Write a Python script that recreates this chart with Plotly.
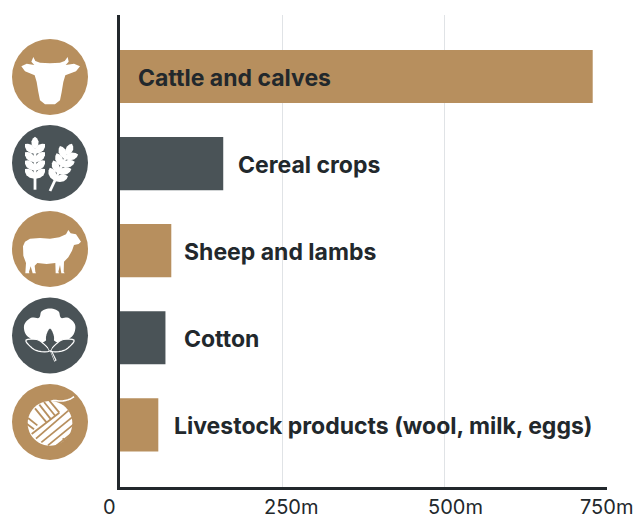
"""Farm exports bar chart with round commodity icons beside each bar."""
import math

import plotly.graph_objects as go

CATEGORIES = ["Cattle and calves", "Cereal crops", "Sheep and lambs", "Cotton",
              "Livestock products (wool, milk, eggs)"]
VALUES = [728, 159, 79, 70, 59]
TICK_VALUES = [0, 250, 500, 750]
TICK_LABELS = ["0", "250m", "500m", "750m"]

TAN = "#B78F5E"
SLATE = "#4A5357"
INK = "#22282C"
GRID = "#E0E3E6"
WHITE = "#FFFFFF"
FONT = "Inter"
BAR_COLORS = [TAN, SLATE, TAN, SLATE, TAN]

W, H = 637, 520
PLOT_L, PLOT_R, PLOT_T, PLOT_B = 120, 607, 15, 486.7
LABEL_X = [137, 237, 183, 183, 173]     # left edge of each bar label, px
ICON_X = 50
ICON_Y = [77, 163, 249, 335.5, 422]
ICON_R = 38
TICK_LABEL_X = [109.5, 291, 455.5, 606.5]


def px(x):
    return x / W


def py(y):
    return 1 - y / H


def path_str(points, close=True):
    cmds = [f"{'M' if i == 0 else 'L'} {px(x):.5f} {py(y):.5f}"
            for i, (x, y) in enumerate(points)]
    return " ".join(cmds) + (" Z" if close else "")


def smooth(points, closed=True, steps=6):
    """Catmull-Rom through hand-traced outline points."""
    n = len(points)
    out = []
    for i in range(n if closed else n - 1):
        if closed:
            p0, p1, p2, p3 = (points[(i + k) % n] for k in (-1, 0, 1, 2))
        else:
            p0, p1, p2, p3 = (points[max(i - 1, 0)], points[i], points[i + 1],
                              points[min(i + 2, n - 1)])
        for s in range(steps):
            t = s / steps
            out.append(tuple(
                0.5 * (2 * b + (c - a) * t + (2 * a - 5 * b + 4 * c - d) * t ** 2
                       + (3 * b - a - 3 * c + d) * t ** 3)
                for a, b, c, d in zip(p0, p1, p2, p3)))
    if not closed:
        out.append(points[-1])
    return out


def crop(points, cx, cy, ox=150, oy=0):
    """Traced points are in 3x zoom units around (ox, oy); move onto the icon."""
    return [(cx + (x - ox) / 3, cy + (y - oy) / 3) for x, y in points]


def shape(points, fill=WHITE, line=None, width=0, close=True):
    return dict(type="path", path=path_str(points, close), xref="paper", yref="paper",
                fillcolor=fill if close else "rgba(0,0,0,0)",
                line=dict(color=line or fill, width=width), layer="above")


def disc(cx, cy, r, color):
    return dict(type="circle", xref="paper", yref="paper", x0=px(cx - r), x1=px(cx + r),
                y0=py(cy + r), y1=py(cy - r), fillcolor=color,
                line=dict(width=0), layer="above")


def kernel(x, y, angle, length, width):
    """Leaf-shaped grain from base (x, y) pointing along angle (degrees)."""
    a = math.radians(angle)
    ux, uy = math.cos(a), math.sin(a)
    nx, ny = -uy, ux
    pts = []
    for t, w in [(0, 0.3), (0.3, 0.9), (0.6, 1), (0.85, 0.6), (1, 0), (0.85, -0.6),
                 (0.6, -1), (0.3, -0.9), (0, -0.3)]:
        pts.append((x + ux * length * t + nx * width * w,
                    y + uy * length * t + ny * width * w))
    return shape(pts)


def cow_icon(cx, cy):
    head = [(100, 110), (106, 122), (120, 127), (150, 129), (180, 127), (194, 122),
            (203, 110), (206, 124), (197, 134), (222, 130), (240, 138), (228, 153),
            (196, 165), (190, 185), (185, 215), (180, 240), (165, 252), (135, 252),
            (120, 240), (115, 215), (110, 185), (104, 165), (75, 153), (64, 138),
            (80, 130), (103, 134), (94, 124)]
    return [disc(cx, cy, ICON_R, TAN), shape(crop(head, cx, cy, 150, 170))]


def ear(x0, y0, tilt, rows, tip):
    """One wheat ear, x0/y0 at the stem foot, tilt in degrees from vertical."""
    a = math.radians(tilt)
    ux, uy = math.sin(a), -math.cos(a)
    items = [shape([(x0, y0), (x0 + ux * tip, y0 + uy * tip)], line=WHITE, width=2.8, close=False)]
    for dist in rows:
        bx, by = x0 + ux * dist, y0 + uy * dist
        items.append(kernel(bx, by, tilt - 90 - 48, 13.5, 3.7))
        items.append(kernel(bx, by, tilt - 90 + 48, 13.5, 3.7))
    items.append(kernel(x0 + ux * tip, y0 + uy * tip, tilt - 90, 12, 3.6))
    return items


def wheat_icon(cx, cy):
    return ([disc(cx, cy, ICON_R, SLATE)]
            + ear(cx - 15, cy + 26.7, 0, (11.7, 20, 28.3, 36.7), 41)
            + ear(cx, cy + 28, 25, (12, 20, 28, 36), 40))


def sheep_icon(cx, cy):
    body = [(69, 122), (75, 108), (90, 99), (120, 97), (150, 99), (178, 95), (198, 86),
            (205, 73), (212, 83), (228, 86), (243, 108), (236, 115), (222, 118),
            (216, 135), (205, 155), (192, 168), (191, 198), (194, 203), (184, 203),
            (180, 178), (175, 198), (177, 203), (167, 203), (166, 172), (140, 175), (112, 172),
            (104, 180), (106, 198), (108, 203), (98, 203), (92, 182), (87, 198), (88, 203),
            (76, 203), (78, 172), (70, 150)]
    return [disc(cx, cy, ICON_R, TAN), shape(crop(body, cx, cy, 150, 130))]


def cotton_icon(cx, cy):
    boll = smooth([(150, 310), (175, 318), (183, 338), (205, 338), (225, 358), (222, 385),
                   (205, 402), (175, 412), (150, 400), (125, 412), (95, 402), (76, 385),
                   (73, 358), (93, 338), (117, 338), (125, 318)])
    left = smooth([(78, 405), (110, 403), (132, 417), (148, 438), (115, 438), (92, 425)], steps=4)
    right = smooth([(222, 405), (190, 403), (168, 417), (152, 438), (185, 438), (208, 425)], steps=4)
    mid = smooth([(150, 370), (162, 395), (158, 420), (150, 436), (142, 420), (138, 395)], steps=4)
    stem_outer = [(150, 437), (156, 437), (170, 465), (163, 470)]
    stem_inner = [(153, 441), (155, 441), (166, 465), (164, 467)]
    return [disc(cx, cy, ICON_R, SLATE),
            shape(crop(boll, cx, cy, 150, 391)),
            shape(crop(left, cx, cy, 150, 391), fill=SLATE, line=WHITE, width=1.2),
            shape(crop(right, cx, cy, 150, 391), fill=SLATE, line=WHITE, width=1.2),
            shape(crop(mid, cx, cy, 150, 391), fill=SLATE),
            shape(crop(stem_outer, cx, cy, 150, 391)),
            shape(crop(stem_inner, cx, cy, 150, 391), fill=SLATE)]


def yarn_icon(cx, cy):
    bx, by, br = 90, 100, 67
    ball = smooth([(bx + br * math.cos(k * math.pi / 12), by + br * math.sin(k * math.pi / 12))
                   for k in range(24)], steps=2)
    items = [disc(cx, cy, ICON_R, TAN), shape(crop(ball, cx, cy, 90, 96))]
    strand = smooth([(78, 40), (100, 32), (125, 33), (148, 28), (162, 20)], closed=False)
    items.append(shape(crop(strand, cx, cy, 90, 96), line=WHITE, width=1.6, close=False))
    stripes = [
        ((45, 55), (80, 98)), ((58, 44), (93, 88)), ((72, 36), (106, 78)), ((88, 32), (118, 68)),
        ((18, 100), (42, 118)), ((24, 84), (52, 106)),
        ((35, 132), (118, 68)), ((48, 146), (145, 62)), ((64, 157), (156, 82)),
        ((84, 166), (160, 104)), ((108, 168), (158, 128)),
        ((128, 145), (142, 158)),
    ]
    for a, b in stripes:
        items.append(shape(crop([a, b], cx, cy, 90, 96), fill=TAN, line=TAN,
                           width=1.8, close=False))
    return items


fig = go.Figure()
fig.add_bar(x=VALUES, y=CATEGORIES, orientation="h", marker=dict(color=BAR_COLORS, line_width=0),
            width=0.61, showlegend=False, hoverinfo="x+y")

shapes = []
for maker, cy in zip((cow_icon, wheat_icon, sheep_icon, cotton_icon, yarn_icon), ICON_Y):
    shapes += maker(ICON_X, cy)

annotations = []
for name, lx in zip(CATEGORIES, LABEL_X):
    annotations.append(dict(x=px(lx), xref="paper", xanchor="left", y=name, yref="y",
                            yanchor="middle", yshift=-1.5, text=f"<b>{name}</b>", showarrow=False,
                            borderpad=0, font=dict(family=FONT, size=23, color=INK)))
for label, lx in zip(TICK_LABELS, TICK_LABEL_X):
    annotations.append(dict(x=px(lx), xref="paper", xanchor="center", y=0, yref="paper",
                            yanchor="bottom", text=label, showarrow=False, borderpad=0,
                            font=dict(family=FONT, size=20, color=INK)))

fig.update_layout(
    width=W, height=H, margin=dict(l=0, r=0, t=0, b=0), autosize=False,
    paper_bgcolor=WHITE, plot_bgcolor=WHITE, shapes=shapes, annotations=annotations,
    bargap=0.39,
    xaxis=dict(domain=[px(PLOT_L), px(PLOT_R)], range=[0, 750], tickvals=TICK_VALUES,
               showticklabels=False, ticks="", gridcolor=GRID, gridwidth=1, zeroline=False,
               showline=True, linecolor=INK, linewidth=2.6),
    yaxis=dict(domain=[py(PLOT_B), py(PLOT_T)], categoryorder="array", categoryarray=CATEGORIES,
               range=[4.71, -0.706], showticklabels=False, ticks="", showgrid=False,
               zeroline=False, showline=True, linecolor=INK, linewidth=2.6),
)
fig.write_html("out.html", config=dict(displayModeBar=False),
               post_script="document.body.style.margin='0';")
